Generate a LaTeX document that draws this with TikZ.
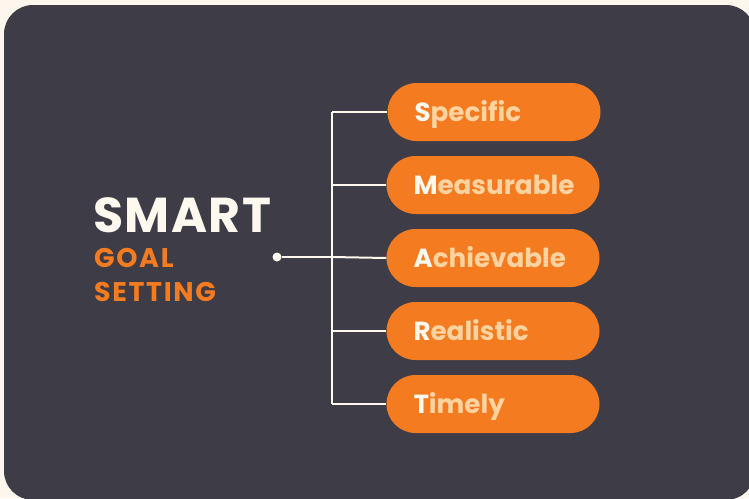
\documentclass[tikz,border=0pt]{standalone}
\usepackage{fontspec}
\setmainfont{Poppins}
\newfontfamily\smartfont[LetterSpace=3]{Poppins}
\newfontfamily\goalfont[LetterSpace=6]{Poppins}
\definecolor{cream}{HTML}{FDF6EC}
\definecolor{panel}{HTML}{3D3C47}
\definecolor{orng}{HTML}{F47B20}
\definecolor{peach}{HTML}{FFD3A0}
\definecolor{whitish}{HTML}{FFF8EE}
\begin{document}
\begin{tikzpicture}[x=1pt,y=-1pt,
  pill/.style={fill=orng, rounded corners=29pt, minimum width=213pt, minimum height=58pt,
    inner xsep=27pt, text width=159pt, text height=18.5pt, text depth=0pt, align=left,
    font=\fontsize{26.2}{26.2}\selectfont\bfseries, text=peach},
  link/.style={draw=whitish, line width=2pt}]
\useasboundingbox (0,0) rectangle (749,498);
\fill[cream] (0,0) rectangle (749,498);
\fill[panel, rounded corners=29pt] (4,5) rectangle (755,500);
\node[anchor=base west, inner sep=0pt, text=whitish, font=\smartfont\fontsize{49}{49}\selectfont\bfseries] (smart) at (93,232) {SMART};
\node[anchor=base west, inner sep=0pt, text=orng, font=\goalfont\fontsize{27}{27}\selectfont\bfseries] (goal) at (94,267) {GOAL};
\node[anchor=base west, inner sep=0pt, text=orng, font=\goalfont\fontsize{27}{27}\selectfont\bfseries] (setting) at (94,301) {SETTING};
\node[pill] (pS) at (494,112) {\textcolor{whitish}{S}pecific};
\node[pill] (pM) at (493,185) {\textcolor{whitish}{M}easurable};
\node[pill] (pA) at (493,258) {\textcolor{whitish}{A}chievable};
\node[pill] (pR) at (493,331) {\textcolor{whitish}{R}ealistic};
\node[pill] (pT) at (493,404) {\textcolor{whitish}{T}imely};
\node[circle, fill=whitish, inner sep=0pt, minimum size=9pt] (dot) at (277,257) {};
\coordinate (tS) at (332,112);
\coordinate (tM) at (332,185);
\coordinate (tA) at (332,257);
\coordinate (tR) at (332,331);
\coordinate (tT) at (332,404);
\draw[link] (tS) -- (tT);
\draw[link] (dot) -- (tA);
\draw[link] (tS) -- (pS.west);
\draw[link] (tM) -- (pM.west);
\draw[link] (tA) -- (pA.west);
\draw[link] (tR) -- (pR.west);
\draw[link] (tT) -- (pT.west);
\end{tikzpicture}
\end{document}
